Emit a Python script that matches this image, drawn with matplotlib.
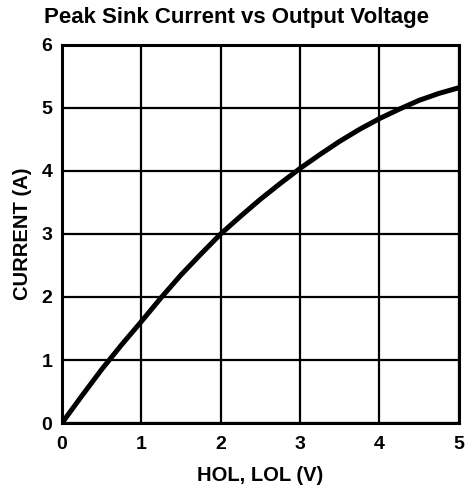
import matplotlib
matplotlib.use("Agg")
from matplotlib import pyplot as plt

# curve
voltage = [0, 0.25, 0.5, 0.75, 1.0, 1.25, 1.5, 1.75, 2.0, 2.25, 2.5,
           2.75, 3.0, 3.25, 3.5, 3.75, 4.0, 4.25, 4.5, 4.75, 5.0]
current = [0, 0.43, 0.85, 1.24, 1.61, 1.99, 2.35, 2.68, 3.0, 3.28, 3.55,
           3.80, 4.04, 4.26, 4.47, 4.66, 4.83, 4.98, 5.12, 5.23, 5.32]

x_ticks = [0, 1, 2, 3, 4, 5]
y_ticks = [0, 1, 2, 3, 4, 5, 6]

plt.rcParams['font.family'] = ['Liberation Sans', 'DejaVu Sans']

fig = plt.figure(figsize=(4.75, 4.94), dpi=100)
ax = fig.add_axes([0.1305, 0.1437, 0.835, 0.7653])

ax.plot(voltage, current, color='black', linewidth=3.6, solid_capstyle='butt')

ax.set_xlim(0, 5)
ax.set_ylim(0, 6)
ax.set_xticks(x_ticks)
ax.set_yticks(y_ticks)
ax.grid(True, color='black', linewidth=1.6)
ax.set_axisbelow(True)
for s in ax.spines.values():
    s.set_linewidth(2.2)
ax.tick_params(axis='x', length=0, pad=9, labelsize=14)
ax.tick_params(axis='y', length=0, pad=7, labelsize=14)
for lab in ax.get_xticklabels() + ax.get_yticklabels():
    lab.set_fontweight('bold')

ax.set_xlabel("HOL, LOL (V)", fontsize=14.5, fontweight='bold', labelpad=10)
ax.set_ylabel("CURRENT (A)", fontsize=14.5, fontweight='bold', labelpad=7)
fig.suptitle("Peak Sink Current vs Output Voltage", fontsize=16, fontweight='bold',
             x=0.497, y=0.986, va='top')

fig.savefig("out.png", dpi=100)
